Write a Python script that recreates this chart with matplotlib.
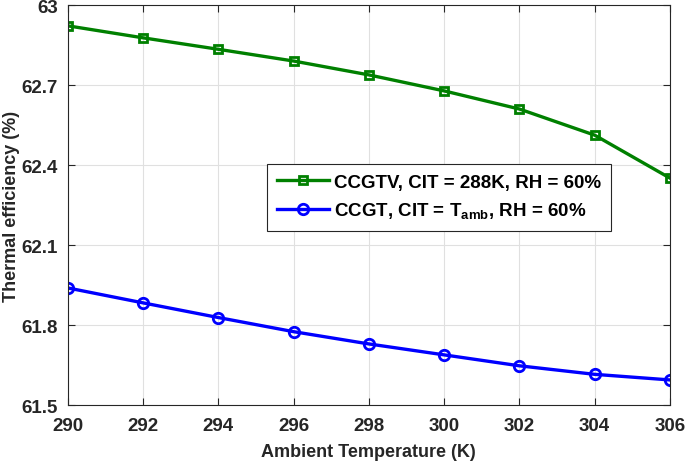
import matplotlib.pyplot as plt

plt.rcParams['font.family'] = ['Liberation Sans', 'DejaVu Sans']
plt.rcParams['font.weight'] = 'bold'

# Ambient temperature (K)
temp = [290, 292, 294, 296, 298, 300, 302, 304, 306]
# Thermal efficiency (%)
eff_ccgtv = [62.922, 62.877, 62.834, 62.790, 62.738, 62.678, 62.610, 62.512, 62.351]
eff_ccgt = [61.939, 61.883, 61.828, 61.775, 61.729, 61.688, 61.647, 61.615, 61.594]

fig = plt.figure(figsize=(6.85, 4.64), dpi=100)
ax = fig.add_axes([0.099, 0.125, 0.879, 0.862])

ax.plot(temp, eff_ccgtv, color='#008000', lw=2.4, marker='s', markersize=6,
        markerfacecolor='none', markeredgewidth=2, label='CCGTV, CIT = 288K, RH = 60%')
ax.plot(temp, eff_ccgt, color='#0000ff', lw=2.4, marker='o', markersize=7.5,
        markerfacecolor='none', markeredgewidth=2,
        label='CCGT, CIT = T$_{\\mathregular{amb}}$, RH = 60%')

ax.set_xlim(290, 306)
ax.set_ylim(61.5, 63)
ax.set_xticks(range(290, 307, 2))
ax.set_yticks([61.5, 61.8, 62.1, 62.4, 62.7, 63])
ax.set_yticklabels(['61.5', '61.8', '62.1', '62.4', '62.7', '63'])
ax.tick_params(direction='in', top=True, right=True, labelsize=13.5, colors='#262626',
               length=5, width=0.8)
ax.tick_params(axis='x', pad=9)
ax.tick_params(axis='y', pad=7)
for lbl in ax.get_xticklabels() + ax.get_yticklabels():
    lbl.set_fontweight('bold')
for s in ax.spines.values():
    s.set_color('#262626')
    s.set_linewidth(0.8)
ax.grid(True, color='#e0e0e0', lw=0.8)

ax.set_xlabel('Ambient Temperature (K)', fontsize=13, fontweight='bold', color='#262626',
              labelpad=6)
ax.set_ylabel('Thermal efficiency (%)', fontsize=13, fontweight='bold', color='#262626')
ax.yaxis.set_label_coords(-0.079, 0.5)

leg = ax.legend(loc='lower left', bbox_to_anchor=(0.33, 0.435), fontsize=13.5,
                frameon=True, fancybox=False, edgecolor='#262626', framealpha=1,
                handlelength=2.8, borderpad=0.55, labelspacing=0.5, handletextpad=0.25,
                borderaxespad=0)
leg.get_frame().set_linewidth(0.8)

fig.savefig('out.png', dpi=100)
